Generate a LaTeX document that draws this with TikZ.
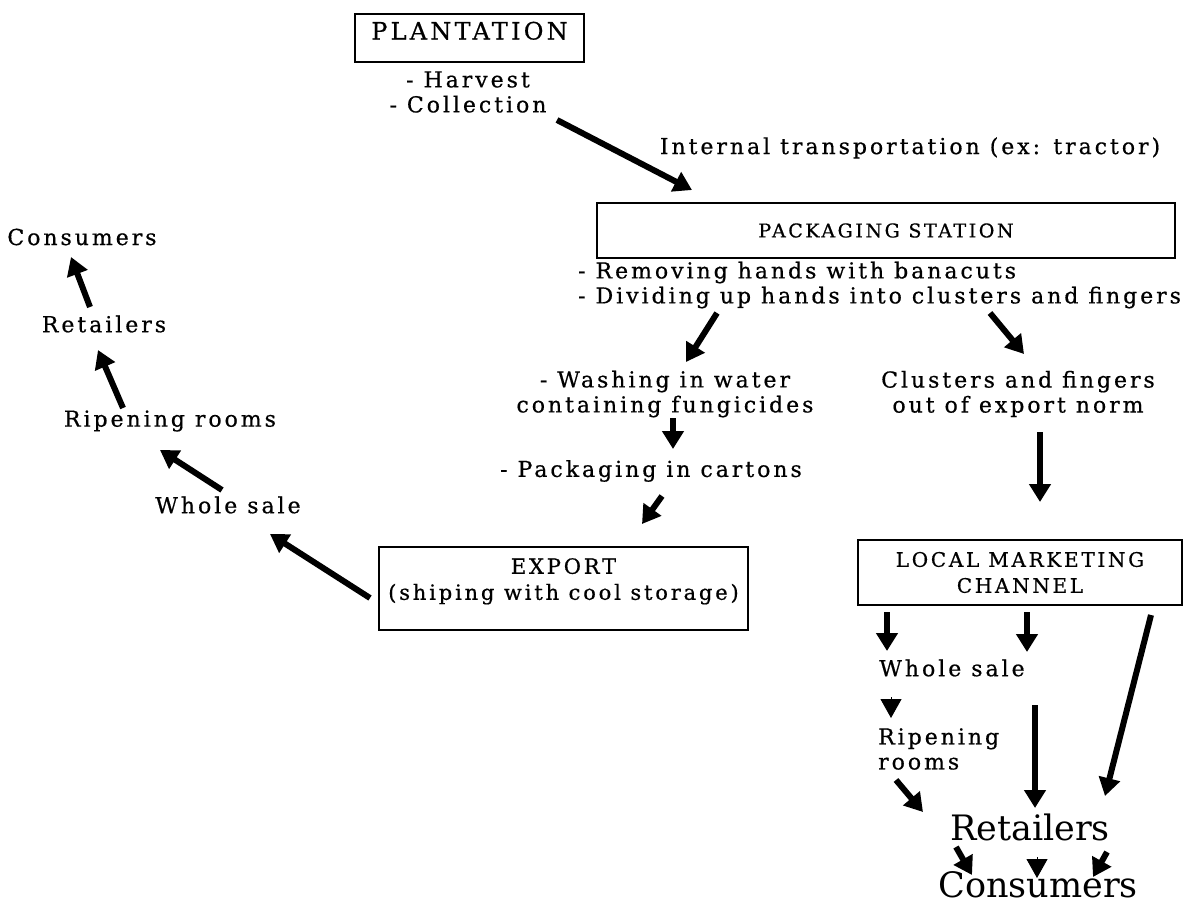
\documentclass[tikz,border=0pt]{standalone}
\usepackage{fontspec}
\setmainfont{DejaVu Serif}[LetterSpace=13.5,FakeBold=0.6]
\newfontfamily\bigfont{DejaVu Serif}
\usetikzlibrary{arrows.meta}
\begin{document}
\begin{tikzpicture}[x=1pt,y=-1pt,
  txt/.style={font=\fontsize{22}{25}\selectfont, inner sep=0pt, align=center},
  bigtxt/.style={font=\bigfont\fontsize{35}{40}\selectfont, inner sep=0pt},
  boxn/.style={draw, line width=1.5pt, inner sep=0pt, align=center},
  capsL/.style={font=\fontsize{24}{30}\selectfont},
  capsM/.style={font=\fontsize{19}{26}\selectfont},
  arr/.style={line width=6pt, -{Triangle[length=18pt,width=21pt]}},
  tri/.style={line width=1pt, -{Triangle[length=19pt,width=21pt]}}
]
\useasboundingbox[fill=white] (0,0) rectangle (1188,905);

% boxes
\node[boxn, capsL, minimum width=229pt, minimum height=48pt, text height=19pt, text depth=16pt] (plant) at (469.5,38) {PLANTATION};
\node[boxn, capsM, minimum width=578pt, minimum height=55pt] (pack) at (886,230.5) {PACKAGING STATION};
\node[boxn, capsM, font=\fontsize{21}{26}\selectfont, minimum width=369pt, minimum height=83pt, text depth=19pt] (export) at (563.5,588.5) {EXPORT\\\fontsize{21}{25}\selectfont(shiping with cool storage)};
\node[boxn, capsM, font=\fontsize{20}{26}\selectfont, minimum width=324pt, minimum height=65pt] (local) at (1020,572.5) {LOCAL MARKETING\\CHANNEL};

% texts
\node[txt] (harv) at (468,92) {- Harvest\\- Collection};
\node[txt] (internal) at (910,148) {Internal transportation (ex: tractor)};
\node[txt, align=left, anchor=west] (remove) at (578,285) {- Removing hands with banacuts\\- Dividing up hands into clusters and fingers};
\node[txt] (wash) at (665,394) {- Washing in water\\containing fungicides};
\node[txt] (clus) at (1018,394) {Clusters and fingers\\out of export norm};
\node[txt] (cart) at (651,471) {- Packaging in cartons};

\node[txt] (cons1) at (82,237) {Consumers};
\node[txt] (ret1) at (104,324) {Retailers};
\node[txt] (rip1) at (170,421) {Ripening rooms};
\node[txt] (whole1) at (228,505) {Whole sale};

\node[txt] (whole2) at (952,668) {Whole sale};
\node[txt, align=left, anchor=west] (rip2) at (878,749) {Ripening\\rooms};
\node[bigtxt] (ret2) at (1030,827) {Retailers};
\node[bigtxt] (cons2) at (1038,885) {Consumers};

% arrow end points
\coordinate (a1s) at (557,120);  \coordinate (a1e) at (692,190);
\coordinate (a2s) at (717,313);  \coordinate (a2e) at (686,362);
\coordinate (a3s) at (990,313);  \coordinate (a3e) at (1024,354);
\coordinate (a4s) at (673,418);  \coordinate (a4e) at (673,449);
\coordinate (a5s) at (662,496);  \coordinate (a5e) at (642,524);
\coordinate (a6s) at (1040,432); \coordinate (a6e) at (1040,502);
\coordinate (a7s) at (370,598);  \coordinate (a7e) at (270,534);
\coordinate (a8s) at (222,490);  \coordinate (a8e) at (160,450);
\coordinate (a9s) at (123,408);  \coordinate (a9e) at (98,350);
\coordinate (a10s) at (90,307);  \coordinate (a10e) at (71,257);
\coordinate (a11s) at (887,612); \coordinate (a11e) at (887,651);
\coordinate (a12s) at (1027,612); \coordinate (a12e) at (1027,652);
\coordinate (a13s) at (1151,615); \coordinate (a13e) at (1105,796);
\coordinate (a14s) at (891,697); \coordinate (a14e) at (891,718);
\coordinate (a15s) at (1035,705); \coordinate (a15e) at (1035,808);
\coordinate (a16s) at (896,780); \coordinate (a16e) at (923,812);
\coordinate (a17s) at (956,847); \coordinate (a17e) at (972,875);
\coordinate (a18s) at (1037,857); \coordinate (a18e) at (1037,878);
\coordinate (a19s) at (1107,852); \coordinate (a19e) at (1093,877);

\draw[arr] (a1s) -- (a1e);
\draw[arr] (a2s) -- (a2e);
\draw[arr] (a3s) -- (a3e);
\draw[arr] (a4s) -- (a4e);
\draw[arr] (a5s) -- (a5e);
\draw[arr] (a6s) -- (a6e);
\draw[arr] (a7s) -- (a7e);
\draw[arr] (a8s) -- (a8e);
\draw[arr] (a9s) -- (a9e);
\draw[arr] (a10s) -- (a10e);
\draw[arr] (a11s) -- (a11e);
\draw[arr] (a12s) -- (a12e);
\draw[arr] (a13s) -- (a13e);
\draw[tri] (a14s) -- (a14e);
\draw[arr] (a15s) -- (a15e);
\draw[arr] (a16s) -- (a16e);
\draw[arr] (a17s) -- (a17e);
\draw[tri] (a18s) -- (a18e);
\draw[arr] (a19s) -- (a19e);
\end{tikzpicture}
\end{document}
